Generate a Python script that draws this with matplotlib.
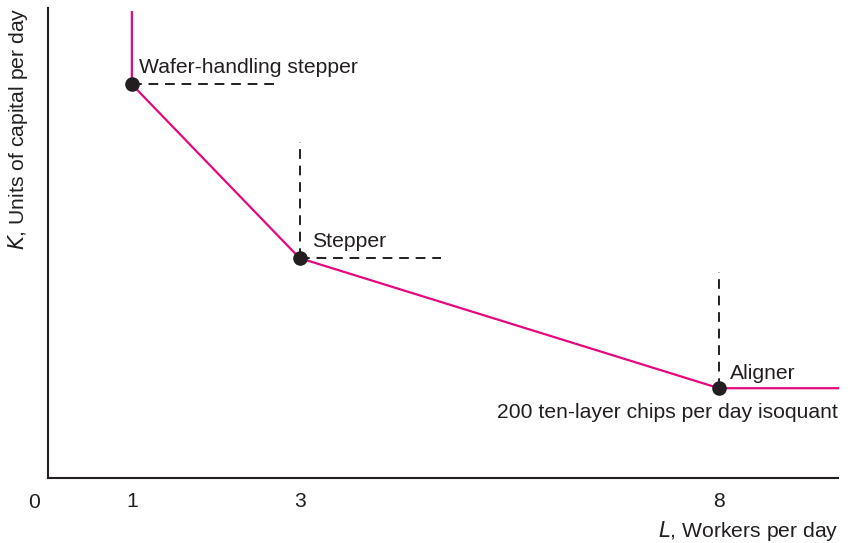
import matplotlib
matplotlib.use("Agg")
import matplotlib.pyplot as plt

plt.rcParams['font.family'] = ['Liberation Sans', 'DejaVu Sans']

# Data (L workers per day, K units of capital per day)
technologies = ["Wafer-handling stepper", "Stepper", "Aligner"]
L_vals = [1, 3, 8]
K_vals = [4.69, 2.62, 1.07]
x_ticks = [1, 3, 8]
isoquant_label = "200 ten-layer chips per day isoquant"
K_top = 5.55
L_end = 9.42
dash_h_end = [2.7, 4.69, None]
dash_v_top = [None, 4.0, 2.45]

pink = "#E5087E"
dark = "#231F20"
fs = 15.2

fig = plt.figure(figsize=(8.51, 5.43), dpi=100)
ax = fig.add_axes([48/851, 65/543, (838-48)/851, (478-8)/543])
ax.set_xlim(0, L_end)
ax.set_ylim(0, 5.6)

# dashed guide lines
for L, K, he, vt in zip(L_vals, K_vals, dash_h_end, dash_v_top):
    if he is not None:
        ax.plot([L, he], [K, K], color=dark, lw=1.4, dashes=(5, 3.5), zorder=2)
    if vt is not None:
        ax.plot([L, L], [K, vt], color=dark, lw=1.4, dashes=(5, 3.5), zorder=2)

# isoquant
xs = [L_vals[0]] + L_vals + [L_end]
ys = [K_top] + K_vals + [K_vals[-1]]
ax.plot(xs, ys, color=pink, lw=1.6, zorder=3, clip_on=False)
ax.plot(L_vals, K_vals, 'o', color=dark, markersize=9.5, zorder=4)

# labels
ax.text(L_vals[0] + 0.08, K_vals[0] + 0.2, technologies[0], fontsize=fs, color=dark, va='center', ha='left')
ax.text(L_vals[1] + 0.15, K_vals[1] + 0.2, technologies[1], fontsize=fs, color=dark, va='center', ha='left')
ax.text(L_vals[2] + 0.13, K_vals[2] + 0.18, technologies[2], fontsize=fs, color=dark, va='center', ha='left')
ax.text(L_end, K_vals[2] - 0.29, isoquant_label, fontsize=fs, color=dark, va='center', ha='right')

# axes styling
for s in ['top', 'right']:
    ax.spines[s].set_visible(False)
for s in ['left', 'bottom']:
    ax.spines[s].set_color(dark)
    ax.spines[s].set_linewidth(1.5)
ax.set_xticks(x_ticks)
ax.set_xticklabels([str(t) for t in x_ticks])
ax.set_yticks([])
ax.tick_params(axis='x', length=0, pad=10, labelsize=fs, colors=dark)
ax.text(-0.17, -0.29, "0", fontsize=fs, color=dark, ha='center', va='center', transform=ax.transData, clip_on=False)

fig.text(838/851, 1 - 531/543, r"$\it{L}$, Workers per day", fontsize=fs, color=dark, ha='right', va='center')
fig.text(18/851, 1 - 8/543, r"$\it{K}$, Units of capital per day", fontsize=fs, color=dark, ha='center', va='top', rotation=90)

fig.savefig("out.png", dpi=100)
